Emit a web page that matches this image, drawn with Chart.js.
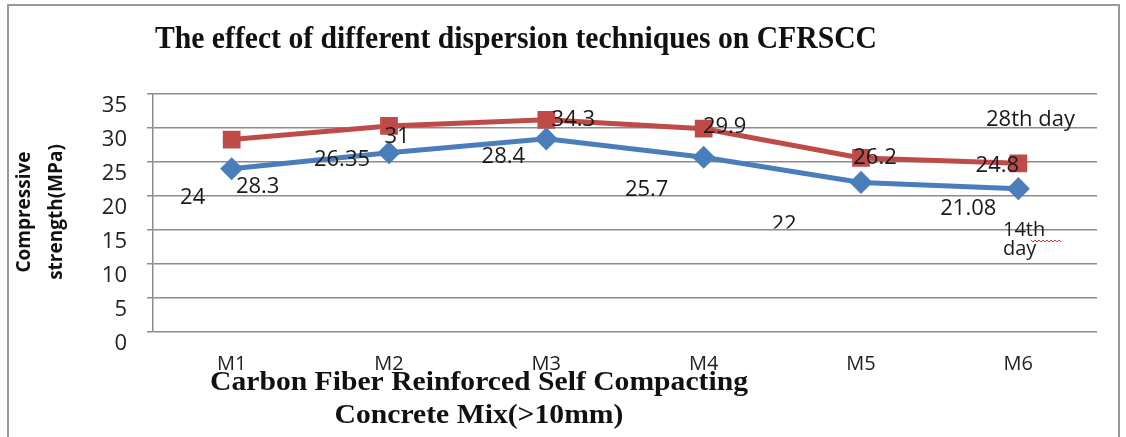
<!DOCTYPE html>
<html>
<head>
<meta charset="utf-8">
<script src="https://cdn.jsdelivr.net/npm/chart.js@4.4.0/dist/chart.umd.min.js"></script>
<style>
  html, body { margin: 0; padding: 0; background: #fff; }
  #wrap { width: 1126px; height: 437px; }
</style>
</head>
<body>
<div id="wrap"><canvas id="strengthChart" width="1126" height="437"></canvas></div>
<script>
// Chart data
const mixes = ['M1', 'M2', 'M3', 'M4', 'M5', 'M6'];
const day14 = [24, 26.35, 28.4, 25.7, 22, 21.08];
const day28 = [28.3, 30.3, 31.2, 29.9, 25.6, 24.8];
const day14Text = ['24', '26.35', '28.4', '25.7', '22', '21.08'];
const day28Text = ['28.3', '31', '34.3', '29.9', '26.2', '24.8'];
const yMin = 0, yMax = 35, yStep = 5;

// where the typed labels sit relative to each point (px)
const day14Offsets = [[-39, 29], [-47, 7], [-43, 18], [-57, 32], [-77, 42], [-50, 20]];
const day28Offsets = [[26, 47], [8, 11], [27, 0], [21, -2], [14, 0], [-21, 2]];

const sansFont = '"Open Sans", "Liberation Sans", sans-serif';
const serifFont = '"Liberation Serif", "DejaVu Serif", serif';
const gridColor = '#8c8c8c';

// draw squeezed serif text like the original
function squeezedText(ctx, text, cx, baseline, targetWidth) {
    const w = ctx.measureText(text).width;
    ctx.save();
    ctx.translate(cx, baseline);
    ctx.scale(targetWidth / w, 1);
    ctx.fillText(text, 0, 0);
    ctx.restore();
    return targetWidth / w;
}

const decorations = {
    id: 'decorations',
    beforeDraw(chart) {
        const ctx = chart.ctx;
        ctx.save();
        ctx.fillStyle = '#fff';
        ctx.fillRect(0, 0, chart.width, chart.height);
        ctx.strokeStyle = '#9a9a9a';
        ctx.lineWidth = 2;
        ctx.beginPath();
        ctx.moveTo(8, chart.height);
        ctx.lineTo(8, 5);
        ctx.lineTo(1119, 5);
        ctx.lineTo(1119, chart.height);
        ctx.stroke();
        ctx.restore();
    },
    afterDatasetsDraw(chart) {
        const ctx = chart.ctx;
        ctx.save();
        ctx.fillStyle = '#1a1a1a';
        ctx.font = '22px ' + sansFont;
        ctx.textAlign = 'center';
        ctx.textBaseline = 'middle';

        const blue = chart.getDatasetMeta(0).data;
        blue.forEach((pt, i) => {
            const [dx, dy] = day14Offsets[i];
            if (i === 4) {
                // this label is half hidden in the original
                ctx.save();
                ctx.beginPath();
                ctx.rect(pt.x + dx - 30, 0, 60, pt.y + dy + 4);
                ctx.clip();
                ctx.fillText(day14Text[i], pt.x + dx, pt.y + dy);
                ctx.restore();
            } else {
                ctx.fillText(day14Text[i], pt.x + dx, pt.y + dy);
            }
        });

        const red = chart.getDatasetMeta(1).data;
        red.forEach((pt, i) => {
            const [dx, dy] = day28Offsets[i];
            ctx.fillText(day28Text[i], pt.x + dx, pt.y + dy);
        });

        // series names
        ctx.textAlign = 'left';
        ctx.textBaseline = 'alphabetic';
        ctx.font = '22px ' + sansFont;
        ctx.fillText('28th day', 986, 126);
        ctx.font = '20px ' + sansFont;
        ctx.fillText('14th', 1003, 236);
        ctx.fillText('day', 1003, 255);

        // red wavy spell-check line
        ctx.strokeStyle = '#d23a3a';
        ctx.lineWidth = 1;
        ctx.beginPath();
        for (let x = 1031, k = 0; x <= 1062; x += 2, k++) {
            const y = 240 + (k % 2 === 0 ? 0 : 2);
            if (k === 0) ctx.moveTo(x, y); else ctx.lineTo(x, y);
        }
        ctx.stroke();
        ctx.restore();
    },
    afterDraw(chart) {
        const ctx = chart.ctx;
        ctx.save();
        ctx.fillStyle = '#111';
        ctx.textAlign = 'center';
        ctx.textBaseline = 'alphabetic';

        // title
        ctx.font = 'bold 31px ' + serifFont;
        squeezedText(ctx, 'The effect of different dispersion techniques on CFRSCC', 516, 48, 722);

        // x axis title
        ctx.font = 'bold 27px ' + serifFont;
        const line1 = 'Carbon Fiber Reinforced Self Compacting';
        const sx = squeezedText(ctx, line1, 479, 390, 538);
        const line2 = 'Concrete Mix(>10mm)';
        const w2 = ctx.measureText(line2).width * sx;
        squeezedText(ctx, line2, 479, 423, w2);

        // y axis title
        ctx.font = 'bold 19px ' + sansFont;
        ctx.textBaseline = 'middle';
        ctx.translate(0, 212);
        ctx.rotate(-Math.PI / 2);
        ctx.fillText('Compressive', 0, 25);
        ctx.fillText('strength(MPa)', 0, 57);
        ctx.restore();
    }
};

const ctx = document.getElementById('strengthChart').getContext('2d');
new Chart(ctx, {
    type: 'line',
    data: {
        labels: mixes,
        datasets: [{
            label: '14th day',
            data: day14,
            borderColor: '#4a7ebb',
            backgroundColor: '#4a7ebb',
            borderWidth: 5,
            pointStyle: 'rectRot',
            pointRadius: 8,
            pointHoverRadius: 8,
            tension: 0,
            fill: false
        }, {
            label: '28th day',
            data: day28,
            borderColor: '#be4b48',
            backgroundColor: '#be4b48',
            borderWidth: 5,
            pointStyle: 'rect',
            pointRadius: 9,
            pointHoverRadius: 9,
            tension: 0,
            fill: false
        }]
    },
    options: {
        responsive: false,
        animation: false,
        layout: { padding: { top: 94, right: 29, left: 0, bottom: 0 } },
        plugins: {
            legend: { display: false },
            tooltip: { enabled: false },
            title: { display: false }
        },
        scales: {
            x: {
                offset: true,
                grid: { display: false, offset: true },
                border: { display: false },
                ticks: { font: { family: sansFont, size: 20 }, color: '#222', padding: 12 },
                afterFit(scale) { scale.height = 105; }
            },
            y: {
                min: yMin,
                max: yMax,
                ticks: {
                    stepSize: yStep,
                    padding: 20,
                    labelOffset: 12,
                    font: { family: sansFont, size: 22 },
                    color: '#222'
                },
                grid: { color: gridColor, lineWidth: 1.5, tickLength: 6 },
                border: { display: true, color: gridColor, width: 1.5 },
                afterFit(scale) { scale.width = 153; }
            }
        }
    },
    plugins: [decorations]
});
</script>
</body>
</html>
